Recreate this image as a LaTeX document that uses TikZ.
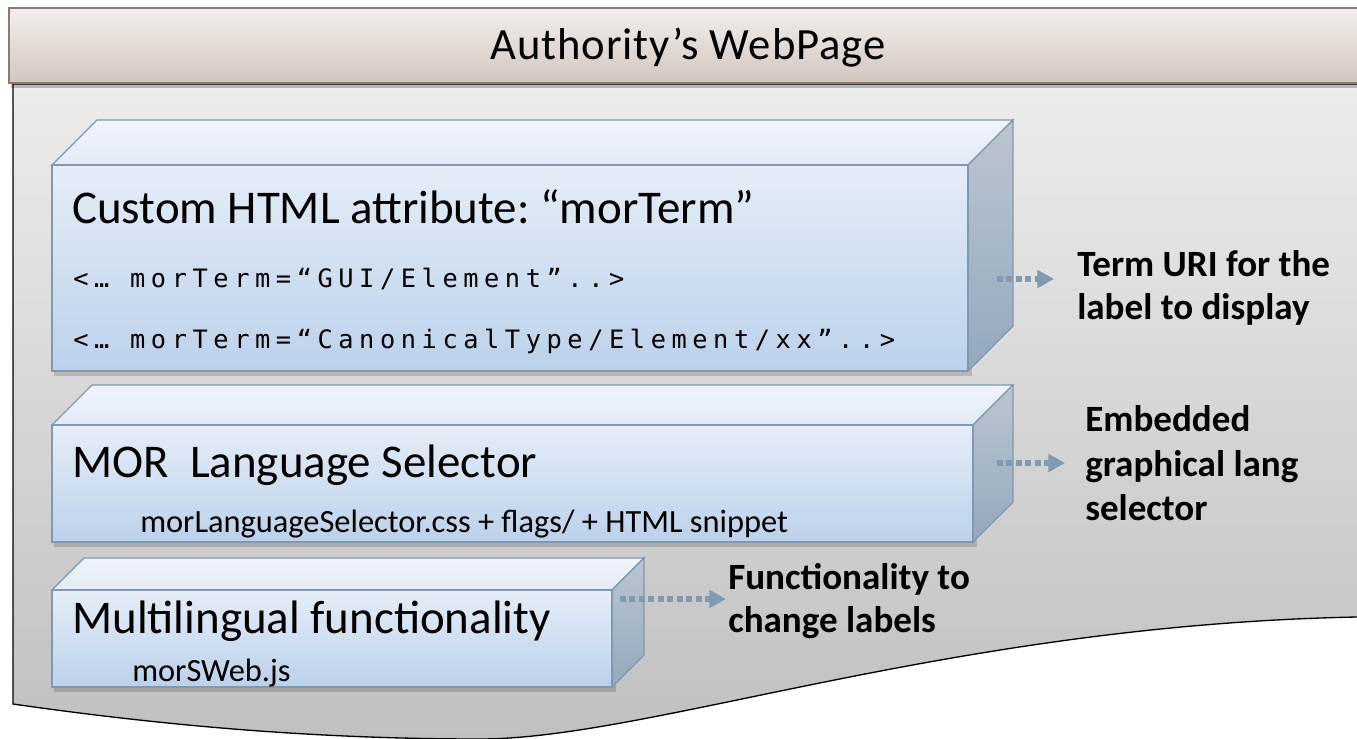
\documentclass[tikz,border=0pt]{standalone}
\usepackage{fontspec}
\setmainfont{Carlito}
\newfontfamily\codefont[LetterSpace=22]{DejaVu Sans Mono}
\newfontfamily\titlefont[LetterSpace=2]{Carlito}
\usetikzlibrary{arrows.meta}
\definecolor{titleT}{HTML}{F3EFEC}
\definecolor{titleBot}{HTML}{D2C6BF}
\definecolor{titleLine}{HTML}{8B7A6F}
\definecolor{mainT}{HTML}{ECECEC}
\definecolor{mainB}{HTML}{C0C0C0}
\definecolor{frontT}{HTML}{E5EDF7}
\definecolor{frontB}{HTML}{BBD1EA}
\definecolor{topT}{HTML}{F0F4FB}
\definecolor{topB}{HTML}{E3EAF4}
\definecolor{sideT}{HTML}{BCC5CF}
\definecolor{sideB}{HTML}{93A9BE}
\definecolor{boxline}{HTML}{7E99B1}
\definecolor{arrowc}{HTML}{7F9AB2}
\newcommand\mycube[5]{%
  \fill[black,opacity=0.16] (#1+2,#2+3) rectangle (#3+4,#4+5);
  \path[top color=topT, bottom color=topB, draw=boxline, line width=1pt]
    (#1,#2) -- (#1+#5,#2-#5) -- (#3+#5,#2-#5) -- (#3,#2) -- cycle;
  \path[top color=sideT, bottom color=sideB, draw=boxline, line width=1pt]
    (#3,#2) -- (#3+#5,#2-#5) -- (#3+#5,#4-#5) -- (#3,#4) -- cycle;
  \path[top color=frontT, bottom color=frontB, draw=boxline, line width=1pt]
    (#1,#2) rectangle (#3,#4);
}
\begin{document}
\frenchspacing
\begin{tikzpicture}[x=0.75pt,y=-0.75pt,
  txt/.style={inner sep=0pt, anchor=base west},
  head/.style={txt, font=\fontsize{35.2}{40}\selectfont},
  sub/.style={txt, font=\fontsize{24.3}{29}\selectfont},
  code/.style={txt, font=\codefont\fontsize{19}{23}\selectfont},
  lbl/.style={txt, font=\bfseries\fontsize{27.8}{33}\selectfont},
  arr/.style={draw=arrowc, line width=4pt, dash pattern=on 4.5pt off 2.6pt,
    -{Triangle[length=12.5pt,width=13pt,sep=0pt]}}]
\useasboundingbox (0,0) rectangle (1357,739);
\clip (0,0) rectangle (1357,739);
% main page
\path[top color=mainT, bottom color=mainB, draw=black, line width=1pt]
  (13,84) -- (13,704) .. controls (180,728) and (330,739) .. (480,739)
  .. controls (650,739) and (950,625) .. (1357,617) -- (1380,616) -- (1380,84) -- cycle;
% title band
\fill[black,opacity=0.22] (11,83) rectangle (1380,88);
\path[top color=titleT, bottom color=titleBot, draw=titleLine, line width=1.5pt]
  (9,8) rectangle (1380,83);
\node[txt, anchor=base, font=\titlefont\fontsize{33.5}{38}\selectfont] (title) at (688,59) {Authority’s WebPage};
% boxes
\mycube{52}{165}{968}{371}{45}
\mycube{52}{425}{973}{542}{40}
\mycube{52}{590}{612}{687}{32}
% box 1 text
\node[head] (h1) at (72,223) {Custom HTML attribute: “morTerm”};
\node[code] (c1) at (73,287) {<… morTerm=“GUI/Element”..>};
\node[code] (c2) at (73,348) {<… morTerm=“CanonicalType/Element/xx”..>};
% box 2 text
\node[head] (h2) at (72,477) {MOR\ \ Language Selector};
\node[sub] (s2) at (140,532) {morLanguageSelector.css + flags/ + HTML snippet};
% box 3 text
\node[head] (h3) at (72,633) {Multilingual functionality};
\node[sub] (s3) at (132,681) {morSWeb.js};
% labels
\node[lbl] (l1a) at (1077,276) {Term URI for the};
\node[lbl] (l1b) at (1077,319) {label to display};
\node[lbl] (l2a) at (1085,431) {Embedded};
\node[lbl] (l2b) at (1085,476) {graphical lang};
\node[lbl] (l2c) at (1085,520) {selector};
\node[lbl] (l3a) at (728,589) {Functionality to};
\node[lbl] (l3b) at (728,632) {change labels};
% arrows
\coordinate (a1s) at (997,279); \coordinate (a1e) at (1054,279);
\coordinate (a2s) at (997,463); \coordinate (a2e) at (1065,463);
\coordinate (a3s) at (620,599); \coordinate (a3e) at (726,599);
\draw[arr] (a1s) -- (a1e);
\draw[arr] (a2s) -- (a2e);
\draw[arr] (a3s) -- (a3e);
\end{tikzpicture}
\end{document}
